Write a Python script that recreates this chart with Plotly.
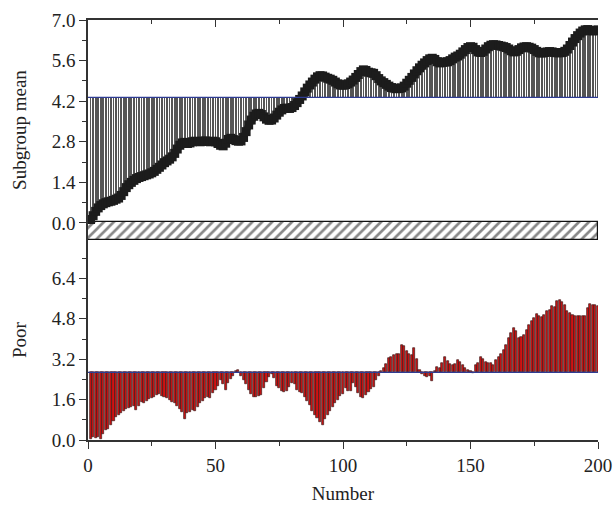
import plotly.graph_objects as go

# ---------------- data ----------------
number = list(range(1, 201))

subgroup_mean = [
    0.12, 0.25, 0.40, 0.52, 0.60, 0.66, 0.70, 0.73, 0.75, 0.78,
    0.82, 0.86, 0.95, 1.08, 1.22, 1.32, 1.40, 1.47, 1.53, 1.57,
    1.60, 1.63, 1.66, 1.69, 1.73, 1.78, 1.85, 1.92, 2.00, 2.08,
    2.14, 2.20, 2.28, 2.40, 2.55, 2.68, 2.76, 2.78, 2.74, 2.76,
    2.80, 2.82, 2.81, 2.80, 2.82, 2.83, 2.81, 2.80, 2.82, 2.80,
    2.74, 2.68, 2.66, 2.75, 2.88, 2.92, 2.88, 2.84, 2.82, 2.83,
    2.95, 3.15, 3.38, 3.55, 3.68, 3.76, 3.78, 3.74, 3.66, 3.58,
    3.54, 3.55, 3.62, 3.72, 3.82, 3.90, 3.95, 3.96, 3.95, 3.98,
    4.05, 4.15, 4.26, 4.38, 4.52, 4.65, 4.76, 4.86, 4.96, 5.04,
    5.08, 5.07, 5.03, 4.99, 4.96, 4.92, 4.86, 4.80, 4.76, 4.75,
    4.77, 4.80, 4.86, 4.93, 5.02, 5.12, 5.22, 5.28, 5.26, 5.20,
    5.18, 5.16, 5.08, 4.98, 4.90, 4.84, 4.78, 4.72, 4.67, 4.65,
    4.63, 4.64, 4.66, 4.72, 4.82, 4.92, 5.02, 5.14, 5.25, 5.35,
    5.44, 5.52, 5.60, 5.66, 5.68, 5.64, 5.56, 5.52, 5.54, 5.55,
    5.56, 5.60, 5.66, 5.72, 5.76, 5.82, 5.90, 5.98, 6.05, 6.08,
    6.06, 5.98, 5.90, 5.88, 5.92, 6.00, 6.08, 6.13, 6.15, 6.14,
    6.12, 6.10, 6.08, 6.05, 6.00, 5.94, 5.90, 5.92, 5.98, 6.04,
    6.07, 6.08, 6.06, 6.03, 5.98, 5.92, 5.87, 5.86, 5.88, 5.90,
    5.91, 5.90, 5.88, 5.87, 5.87, 5.88, 5.92, 6.00, 6.12, 6.24,
    6.36, 6.46, 6.55, 6.62, 6.66, 6.67, 6.64, 6.62, 6.64, 6.66,
]

poor = [
    0.05, 0.10, 0.08, 0.12, 0.02, 0.25, 0.40, 0.45, 0.60, 0.75,
    0.90, 1.00, 1.05, 1.15, 1.22, 1.25, 1.30, 1.36, 1.18, 1.35,
    1.52, 1.48, 1.55, 1.62, 1.66, 1.70, 1.76, 1.80, 1.75, 1.70,
    1.65, 1.60, 1.52, 1.45, 1.35, 1.22, 1.10, 0.82, 1.08, 1.12,
    1.18, 1.15, 1.30, 1.48, 1.55, 1.65, 1.72, 1.68, 1.85, 1.98,
    2.15, 2.38, 2.20, 1.98, 2.25, 2.42, 2.55, 2.72, 2.78, 2.55,
    2.38, 2.20, 1.98, 1.82, 1.72, 1.70, 1.75, 1.78, 2.05, 2.30,
    2.48, 2.62, 2.45, 2.12, 2.06, 1.95, 1.90, 1.95, 2.08, 2.25,
    2.20, 1.98, 1.88, 1.85, 1.70, 1.55, 1.40, 1.15, 1.00, 0.85,
    0.70, 0.60, 0.82, 1.00, 1.15, 1.30, 1.46, 1.60, 1.75, 1.80,
    2.06, 1.95, 1.92, 2.25, 2.10, 1.85, 1.70, 1.66, 1.78, 1.90,
    2.00, 2.10, 2.38, 2.55, 2.75, 2.85, 3.00, 3.24, 3.30, 3.36,
    3.40, 3.42, 3.76, 3.72, 3.52, 3.40, 3.36, 3.64, 3.22, 2.78,
    2.60, 2.55, 2.50, 2.55, 2.32, 2.75, 2.90, 2.85, 3.05, 3.29,
    3.12, 3.00, 2.97, 3.00, 3.17, 3.08, 2.95, 2.85, 2.78, 2.72,
    2.64, 2.97, 3.05, 3.29, 3.20, 3.10, 3.05, 3.05, 2.97, 3.17,
    3.30, 3.42, 3.56, 3.78, 4.05, 4.25, 4.42, 4.30, 4.05, 4.06,
    4.16, 4.35, 4.55, 4.72, 4.83, 5.00, 4.90, 4.85, 4.95, 5.10,
    5.15, 5.32, 5.28, 5.50, 5.54, 5.45, 5.34, 5.10, 5.02, 4.94,
    4.91, 4.91, 4.92, 4.91, 4.92, 5.22, 5.38, 5.34, 5.34, 5.30,
]

mean_base = 4.33        # reference level, top panel
poor_base = 2.68        # reference level, bottom panel
band_top = 0.05         # hatched band, top panel
band_bottom = -0.59

x_range = [0, 200]
top_range = [band_bottom, 7.0]
bottom_range = [0, 7.92]

# ---------------- figure ----------------
FONT = "Liberation Serif"
FS = 19
AX = "#333333"
fig = go.Figure()

# hatched band
fig.add_trace(go.Bar(
    x=[sum(x_range) / 2], y=[band_top - band_bottom], base=band_bottom,
    width=x_range[1] - x_range[0],
    marker=dict(color="white", line=dict(color="#111", width=1.2),
                pattern=dict(shape="/", fgcolor="#111", bgcolor="white",
                             size=7, solidity=0.38)),
    xaxis="x2", yaxis="y2", showlegend=False, hoverinfo="skip"))

# drop lines top panel
fig.add_trace(go.Bar(
    x=number, y=[v - mean_base for v in subgroup_mean], base=mean_base,
    width=0.3, marker=dict(color="#555555", line=dict(width=0)),
    xaxis="x2", yaxis="y2", showlegend=False))

# mean curve
fig.add_trace(go.Scatter(
    x=number, y=subgroup_mean, mode="lines+markers",
    line=dict(color="#1c1c1c", width=7),
    marker=dict(symbol="square", size=9, color="#1c1c1c"),
    xaxis="x2", yaxis="y2", showlegend=False))

# bottom bars
fig.add_trace(go.Bar(
    x=number, y=[v - poor_base for v in poor], base=poor_base,
    width=0.8, marker=dict(color="#d01212", line=dict(color="#3a1a1a", width=0.7)),
    xaxis="x", yaxis="y", showlegend=False))

# baselines
for yref, xref, val in [("y2", "x2 domain", mean_base), ("y", "x domain", poor_base)]:
    fig.add_shape(type="line", xref=xref, yref=yref, x0=0, x1=1, y0=val, y1=val,
                  line=dict(color="#2f3c94", width=1.3))

tickfont = dict(family=FONT, size=FS, color="#222")
common = dict(showgrid=False, zeroline=False, showline=True, linecolor=AX,
              linewidth=1.5, tickcolor=AX, tickwidth=1.2, tickfont=tickfont,
              automargin=False)
split = 0.476
titlefont = dict(family=FONT, size=FS, color="#222")

fig.update_layout(
    width=615, height=517,
    margin=dict(l=88, r=17, t=20, b=77),
    paper_bgcolor="white", plot_bgcolor="white",
    barmode="overlay", bargap=0,
    font=dict(family=FONT, size=FS, color="#222"),
    xaxis=dict(domain=[0, 1], anchor="y", range=x_range, tick0=0, dtick=50,
               ticks="outside", ticklen=7, mirror=True,
               minor=dict(dtick=25, ticks="outside", ticklen=4, tickcolor=AX),
               title=dict(text="Number", standoff=12, font=titlefont),
               **common),
    yaxis=dict(domain=[0, split], anchor="x", range=bottom_range, tick0=0, dtick=1.6,
               tickformat=".1f", ticks="outside", ticklen=7,
               minor=dict(dtick=0.8, ticks="outside", ticklen=4, tickcolor=AX),
               title=dict(text="Poor", standoff=20, font=titlefont),
               **common),
    yaxis4=dict(overlaying="y", side="right", anchor="x", range=bottom_range,
                tick0=0, dtick=1.6, ticks="inside", ticklen=7, showticklabels=False,
                minor=dict(dtick=0.8, ticks="inside", ticklen=4, tickcolor=AX),
                **common),
    xaxis2=dict(domain=[0, 1], anchor="y2", side="top", range=x_range, tick0=0,
                dtick=50, ticks="inside", ticklen=7, showticklabels=False,
                minor=dict(dtick=25, ticks="inside", ticklen=4, tickcolor=AX),
                **common),
    yaxis2=dict(domain=[split, 1], anchor="x2", range=top_range, tick0=0, dtick=1.4,
                tickformat=".1f", ticks="outside", ticklen=7,
                minor=dict(dtick=0.7, ticks="outside", ticklen=4, tickcolor=AX),
                title=dict(text="Subgroup mean", standoff=20, font=titlefont),
                **common),
    yaxis3=dict(overlaying="y2", side="right", anchor="x2", range=top_range,
                tick0=0, dtick=1.4, ticks="inside", ticklen=7, showticklabels=False,
                minor=dict(dtick=0.7, ticks="inside", ticklen=4, tickcolor=AX),
                **common),
)

fig.write_html(
    "out.html",
    config={"displayModeBar": False},
    post_script="document.body.style.margin='0';document.body.style.overflow='hidden';",
)
